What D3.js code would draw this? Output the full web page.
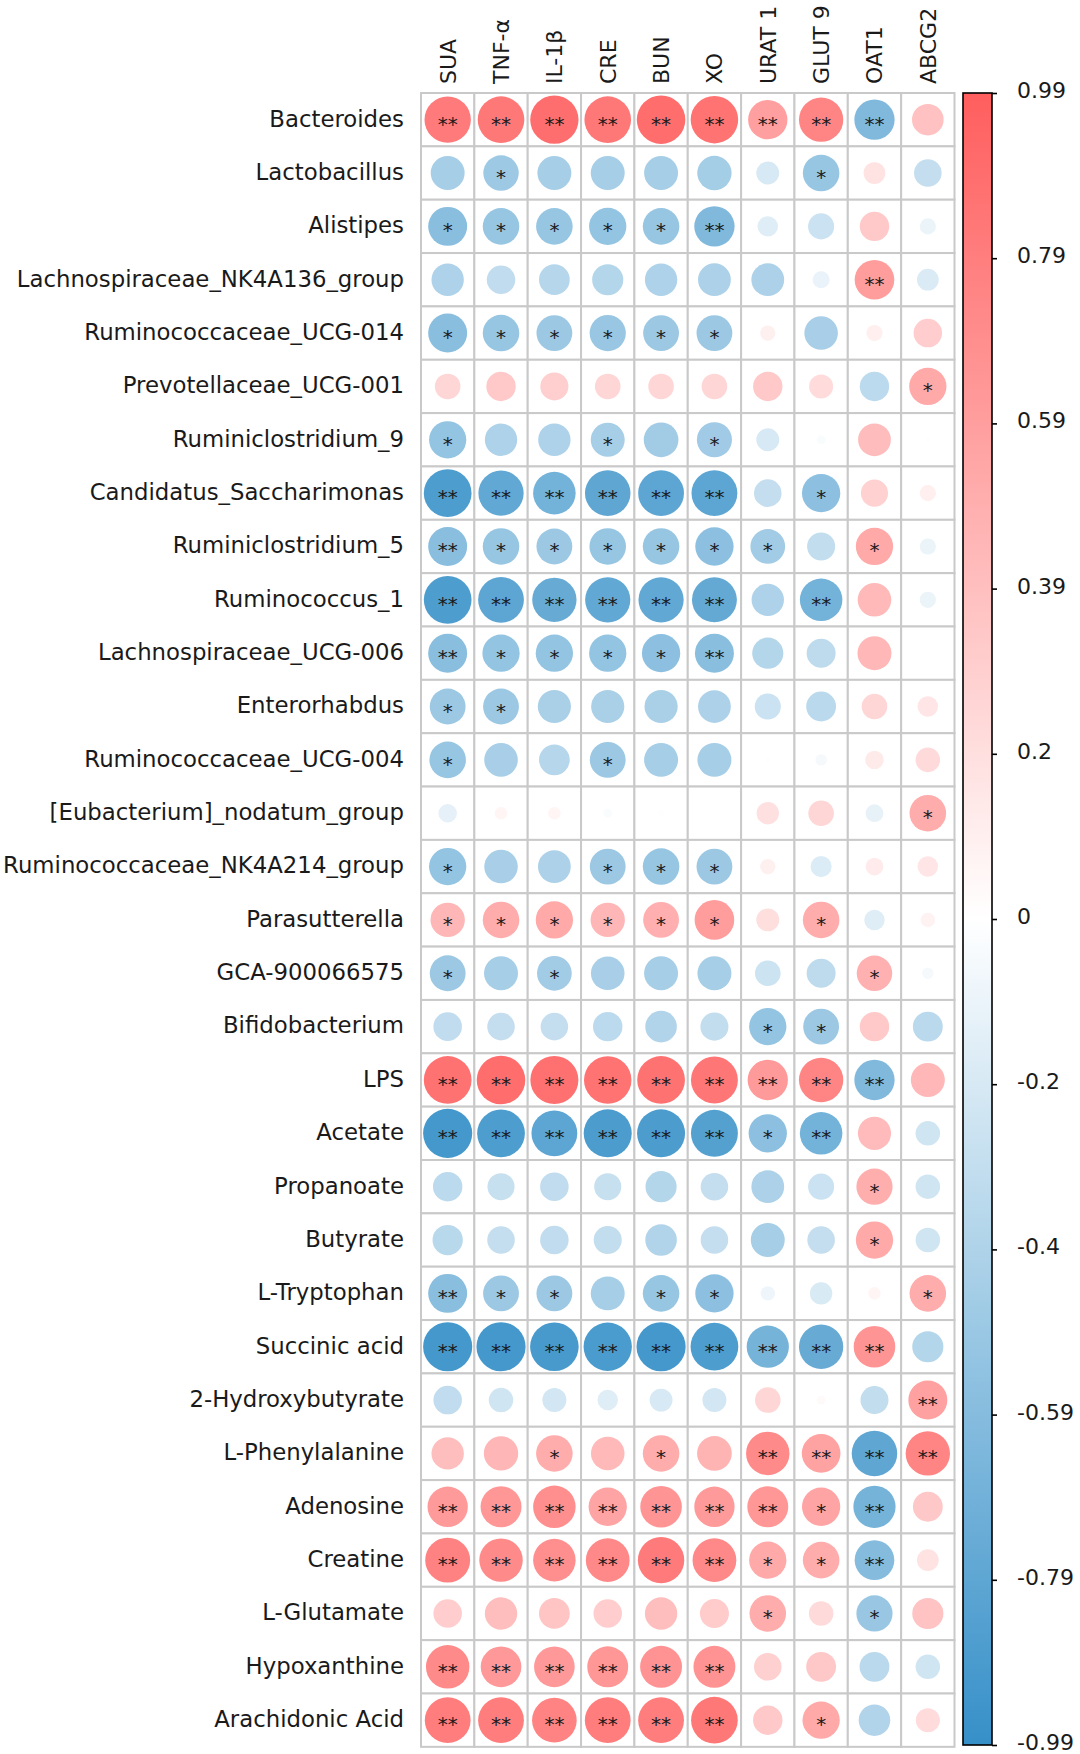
<!DOCTYPE html>
<html>
<head>
<meta charset="utf-8">
<script src="https://cdn.jsdelivr.net/npm/d3@7"></script>
<style>
  html, body { margin: 0; padding: 0; background: #ffffff; }
  svg { display: block; }
  text { font-family: "DejaVu Sans", sans-serif; fill: #1a1a1a; }
</style>
</head>
<body>
<svg id="chart" width="1080" height="1754"></svg>
<script>
// ---------- DATA ----------
const columns = ["SUA", "TNF-α", "IL-1β", "CRE", "BUN", "XO", "URAT 1", "GLUT 9", "OAT1", "ABCG2"];
const rows = [
  "Bacteroides", "Lactobacillus", "Alistipes", "Lachnospiraceae_NK4A136_group",
  "Ruminococcaceae_UCG-014", "Prevotellaceae_UCG-001", "Ruminiclostridium_9",
  "Candidatus_Saccharimonas", "Ruminiclostridium_5", "Ruminococcus_1",
  "Lachnospiraceae_UCG-006", "Enterorhabdus", "Ruminococcaceae_UCG-004",
  "[Eubacterium]_nodatum_group", "Ruminococcaceae_NK4A214_group", "Parasutterella",
  "GCA-900066575", "Bifidobacterium", "LPS", "Acetate", "Propanoate", "Butyrate",
  "L-Tryptophan", "Succinic acid", "2-Hydroxybutyrate", "L-Phenylalanine",
  "Adenosine", "Creatine", "L-Glutamate", "Hypoxanthine", "Arachidonic Acid"
];

// correlation coefficients, one array per column (rows in order above)
const rSUA   = [0.82,-0.44,-0.58,-0.40,-0.58,0.25,-0.53,-0.87,-0.58,-0.87,-0.58,-0.49,-0.51,-0.13,-0.53,0.45,-0.49,-0.31,0.87,-0.92,-0.33,-0.35,-0.58,-0.92,-0.31,0.40,0.62,0.77,0.31,0.72,0.80];
const rTNF   = [0.83,-0.48,-0.51,-0.31,-0.51,0.33,-0.40,-0.78,-0.51,-0.80,-0.53,-0.49,-0.43,0.06,-0.43,0.51,-0.44,-0.29,0.90,-0.87,-0.28,-0.29,-0.49,-0.92,-0.23,0.45,0.64,0.72,0.40,0.63,0.80];
const rIL1B  = [0.89,-0.44,-0.51,-0.36,-0.49,0.30,-0.40,-0.69,-0.49,-0.75,-0.53,-0.42,-0.36,0.06,-0.41,0.53,-0.46,-0.29,0.88,-0.80,-0.31,-0.31,-0.49,-0.90,-0.22,0.51,0.69,0.69,0.36,0.63,0.76];
const rCRE   = [0.83,-0.44,-0.53,-0.37,-0.50,0.25,-0.44,-0.79,-0.51,-0.78,-0.53,-0.42,-0.49,-0.03,-0.49,0.45,-0.43,-0.33,0.86,-0.88,-0.28,-0.30,-0.44,-0.89,-0.16,0.43,0.56,0.73,0.31,0.64,0.80];
const rBUN   = [0.90,-0.44,-0.51,-0.40,-0.49,0.25,-0.46,-0.80,-0.51,-0.78,-0.56,-0.42,-0.44,0.01,-0.51,0.49,-0.44,-0.38,0.87,-0.88,-0.37,-0.38,-0.51,-0.92,-0.20,0.51,0.66,0.82,0.40,0.67,0.80];
const rXO    = [0.86,-0.45,-0.62,-0.41,-0.49,0.25,-0.47,-0.80,-0.56,-0.77,-0.58,-0.41,-0.44,0.00,-0.49,0.60,-0.44,-0.30,0.84,-0.84,-0.29,-0.29,-0.56,-0.87,-0.22,0.46,0.62,0.73,0.32,0.67,0.83];
const rURAT1 = [0.59,-0.20,-0.16,-0.41,0.09,0.33,-0.20,-0.29,-0.46,-0.40,-0.37,-0.26,-0.01,0.19,0.09,0.20,-0.25,-0.53,0.62,-0.56,-0.41,-0.44,-0.08,-0.68,0.25,0.72,0.64,0.53,0.51,0.29,0.33];
const rGLUT9 = [0.75,-0.51,-0.26,-0.11,-0.43,0.22,-0.03,-0.56,-0.30,-0.69,-0.32,-0.34,-0.05,0.25,-0.17,0.51,-0.32,-0.49,0.75,-0.69,-0.26,-0.29,-0.19,-0.75,0.03,0.57,0.56,0.51,0.23,0.34,0.53];
const rOAT1  = [-0.62,0.18,0.33,0.60,0.10,-0.33,0.41,0.28,0.53,0.43,0.44,0.25,0.13,-0.12,0.12,-0.16,0.48,0.33,-0.62,0.42,0.50,0.53,0.06,0.66,-0.30,-0.79,-0.68,-0.60,-0.50,-0.34,-0.38];
const rABCG2 = [0.38,-0.29,-0.10,-0.18,0.31,0.53,-0.01,0.10,-0.10,-0.10,0.00,0.16,0.23,0.51,0.16,0.08,-0.05,-0.34,0.44,-0.23,-0.23,-0.23,0.51,-0.37,0.58,0.75,0.34,0.18,0.37,-0.23,0.22];

// significance level per cell: 0 none, 1 = *, 2 = **
const sSUA   = [2,0,1,0,1,0,1,2,2,2,2,1,1,0,1,1,1,0,2,2,0,0,2,2,0,0,2,2,0,2,2];
const sTNF   = [2,1,1,0,1,0,0,2,1,2,1,1,0,0,0,1,0,0,2,2,0,0,1,2,0,0,2,2,0,2,2];
const sIL1B  = [2,0,1,0,1,0,0,2,1,2,1,0,0,0,0,1,1,0,2,2,0,0,1,2,0,1,2,2,0,2,2];
const sCRE   = [2,0,1,0,1,0,1,2,1,2,1,0,1,0,1,1,0,0,2,2,0,0,0,2,0,0,2,2,0,2,2];
const sBUN   = [2,0,1,0,1,0,0,2,1,2,1,0,0,0,1,1,0,0,2,2,0,0,1,2,0,1,2,2,0,2,2];
const sXO    = [2,0,2,0,1,0,1,2,1,2,2,0,0,0,1,1,0,0,2,2,0,0,1,2,0,0,2,2,0,2,2];
const sURAT1 = [2,0,0,0,0,0,0,0,1,0,0,0,0,0,0,0,0,1,2,1,0,0,0,2,0,2,2,1,1,0,0];
const sGLUT9 = [2,1,0,0,0,0,0,1,0,2,0,0,0,0,0,1,0,1,2,2,0,0,0,2,0,2,1,1,0,0,1];
const sOAT1  = [2,0,0,2,0,0,0,0,1,0,0,0,0,0,0,0,1,0,2,0,1,1,0,2,0,2,2,2,1,0,0];
const sABCG2 = [0,0,0,0,0,1,0,0,0,0,0,0,0,1,0,0,0,0,0,0,0,0,1,0,2,2,0,0,0,0,0];

// colour bar ticks
const cbTickValues = [0.99, 0.792, 0.594, 0.396, 0.198, 0, -0.198, -0.396, -0.594, -0.792, -0.99];
const cbTickLabels = ["0.99", "0.79", "0.59", "0.39", "0.2", "0", "-0.2", "-0.4", "-0.59", "-0.79", "-0.99"];

// ---------- BUILD ----------
const rValues = [rSUA, rTNF, rIL1B, rCRE, rBUN, rXO, rURAT1, rGLUT9, rOAT1, rABCG2];
const sigValues = [sSUA, sTNF, sIL1B, sCRE, sBUN, sXO, sURAT1, sGLUT9, sOAT1, sABCG2];
const cells = [];
columns.forEach((c, ci) => rows.forEach((r, ri) => {
  cells.push({ col: c, row: r, v: rValues[ci][ri], sig: sigValues[ci][ri] });
}));

const svg = d3.select("#chart");
const gridLeft = 421, gridTop = 93, cell = 53.35;
const gridRight = gridLeft + cell * columns.length;
const gridBottom = gridTop + cell * rows.length;

const x = d3.scaleBand().domain(columns).range([gridLeft, gridRight]);
const y = d3.scaleBand().domain(rows).range([gridTop, gridBottom]);
const color = d3.scaleLinear().domain([-0.99, 0, 0.99])
  .range(["#3690c8", "#ffffff", "#ff5e5e"]).clamp(true);
const radius = d3.scaleSqrt().domain([0, 1]).range([0, 25.6]).clamp(true);

// grid cells
svg.append("g").selectAll("rect").data(cells).join("rect")
  .attr("x", d => x(d.col)).attr("y", d => y(d.row))
  .attr("width", x.bandwidth()).attr("height", y.bandwidth())
  .attr("fill", "#ffffff").attr("stroke", "#c9c9c9").attr("stroke-width", 2);

// circles
svg.append("g").selectAll("circle").data(cells).join("circle")
  .attr("cx", d => x(d.col) + x.bandwidth() / 2)
  .attr("cy", d => y(d.row) + y.bandwidth() / 2)
  .attr("r", d => radius(Math.abs(d.v)))
  .attr("fill", d => color(d.v));

// significance stars
svg.append("g").selectAll("text").data(cells.filter(d => d.sig > 0)).join("text")
  .attr("x", d => x(d.col) + x.bandwidth() / 2)
  .attr("y", d => y(d.row) + y.bandwidth() / 2 + 11)
  .attr("text-anchor", "middle")
  .style("font-size", "20px")
  .style("fill", "#1a1a1a")
  .text(d => d.sig === 2 ? "**" : "*");

// row labels
svg.append("g").selectAll("text").data(rows).join("text")
  .attr("x", 404)
  .attr("y", d => y(d) + y.bandwidth() / 2)
  .attr("dy", "0.3em")
  .attr("text-anchor", "end")
  .style("font-size", "22.8px")
  .text(d => d);

// column labels
svg.append("g").selectAll("text").data(columns).join("text")
  .attr("transform", d => `translate(${x(d) + x.bandwidth() / 2},84) rotate(-90)`)
  .attr("dy", "0.36em")
  .attr("text-anchor", "start")
  .style("font-size", "22px")
  .text(d => d);

// colour bar
const cbX = 963, cbW = 29;
const cbY = d3.scaleLinear().domain([0.99, -0.99]).range([gridTop, 1745]);
const defs = svg.append("defs");
const grad = defs.append("linearGradient").attr("id", "cbgrad")
  .attr("x1", 0).attr("y1", 0).attr("x2", 0).attr("y2", 1);
d3.range(0, 21).forEach(i => {
  const v = 0.99 - i * (1.98 / 20);
  grad.append("stop").attr("offset", (i / 20)).attr("stop-color", color(v));
});
svg.append("rect")
  .attr("x", cbX).attr("y", cbY(0.99))
  .attr("width", cbW).attr("height", cbY(-0.99) - cbY(0.99))
  .attr("fill", "url(#cbgrad)")
  .attr("stroke", "#000").attr("stroke-width", 1.6);

const cbAxis = d3.axisRight(cbY)
  .tickValues(cbTickValues)
  .tickFormat((d, i) => cbTickLabels[i])
  .tickSize(5).tickPadding(20);
const ax = svg.append("g").attr("transform", `translate(${cbX + cbW},0)`).call(cbAxis);
ax.select(".domain").remove();
ax.selectAll(".tick line").attr("stroke", "#000").attr("stroke-width", 1.6);
ax.selectAll(".tick text")
  .attr("dy", "0.2em")
  .style("font-family", "'DejaVu Sans', sans-serif")
  .style("font-size", "22px")
  .style("fill", "#1a1a1a");
</script>
</body>
</html>
